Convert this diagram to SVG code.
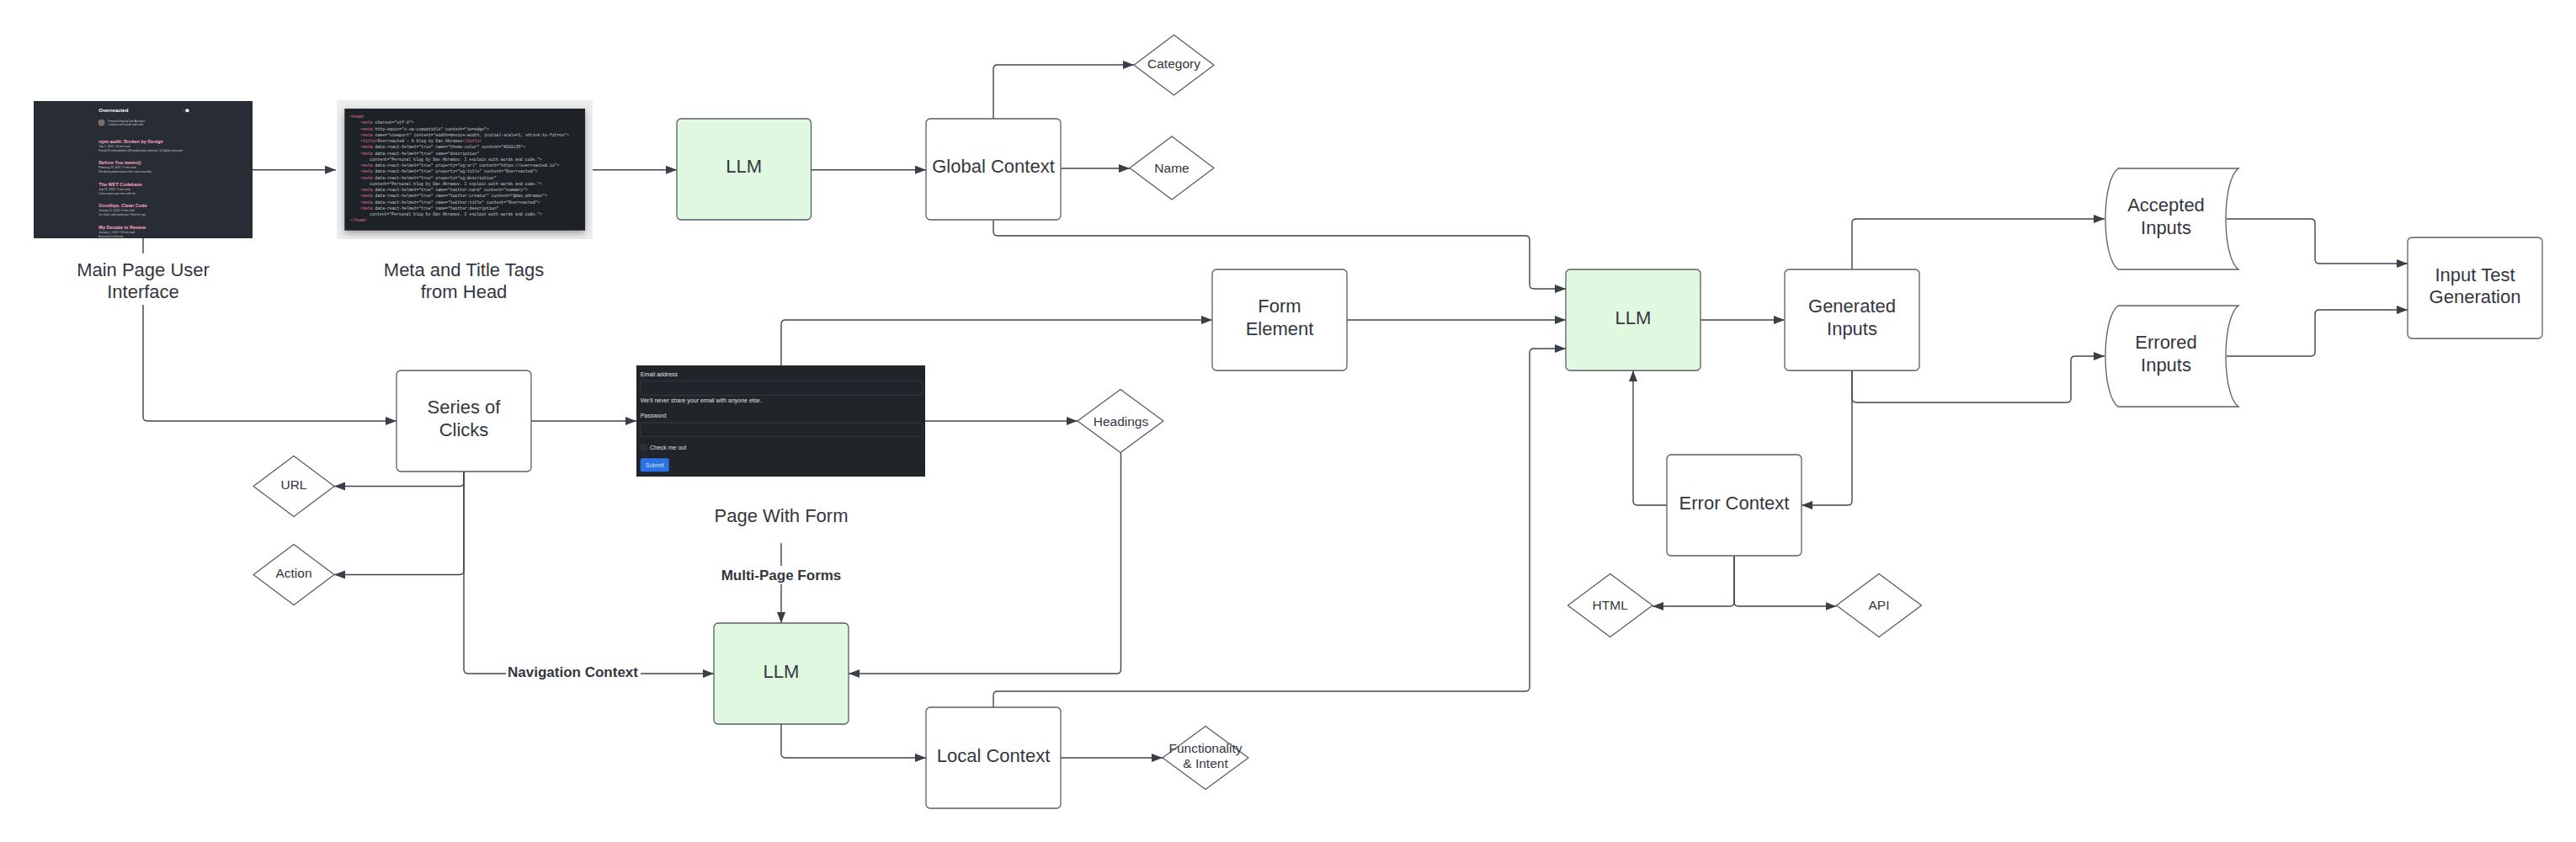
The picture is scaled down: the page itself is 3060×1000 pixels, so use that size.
<svg xmlns="http://www.w3.org/2000/svg" width="3060" height="1000" viewBox="0 0 3060 1000">
<style>
.bg{fill:#ffffff}
.box{fill:#ffffff;stroke:#5a5d63;stroke-width:1.3}
.llm{fill:#e1f8e0;stroke:#5a5d63;stroke-width:1.3}
.dia{fill:#ffffff;stroke:#5a5d63;stroke-width:1.3;stroke-linejoin:round}
.t{font-family:"Liberation Sans",Arial,sans-serif;font-size:22px;fill:#333740;text-anchor:middle}
.ts{font-family:"Liberation Sans",Arial,sans-serif;font-size:15.5px;fill:#333740;text-anchor:middle}
.tb{font-family:"Liberation Sans",Arial,sans-serif;font-size:17px;font-weight:bold;fill:#333740;text-anchor:middle}
.c{fill:none;stroke:#40444e;stroke-width:1.4}
.code{font-family:"Liberation Mono","DejaVu Sans Mono",monospace;font-size:4.8px;fill:#c9cbce}
.tag{fill:#e3709c}
.ui{font-family:"Liberation Sans",Arial,sans-serif}
.pt{font-size:5.5px;font-weight:bold;fill:#ffa7c4}
.ps{font-size:3.2px;fill:#c8c8c8}
.fl{font-family:"Liberation Sans",Arial,sans-serif;font-size:7px;fill:#dee2e6}
</style>
<defs>
<marker id="ah" viewBox="0 0 13 10" refX="13" refY="5" markerWidth="13" markerHeight="10" markerUnits="userSpaceOnUse" orient="auto">
<path d="M0,0 L13,5 L0,10 z" fill="#3a3e48"/>
</marker>
<filter id="sh" x="-10%" y="-10%" width="120%" height="130%">
<feDropShadow dx="0" dy="3" stdDeviation="4" flood-color="#000" flood-opacity="0.35"/>
</filter>
<clipPath id="uiclip"><rect x="40" y="120" width="260" height="163"/></clipPath>
</defs>
<rect class="bg" x="0" y="0" width="3060" height="1000"/>

<g id="connectors">
<path class="c" d="M300,201.7 H399" marker-end="url(#ah)"/>
<path class="c" d="M703.5,201.7 H804" marker-end="url(#ah)"/>
<path class="c" d="M963,201.7 H1100" marker-end="url(#ah)"/>
<path class="c" d="M1180,141 V82 Q1180,77 1185,77 H1347" marker-end="url(#ah)"/>
<path class="c" d="M1260,200 H1342" marker-end="url(#ah)"/>
<path class="c" d="M1180,261 V275 Q1180,280 1185,280 H1812 Q1817,280 1817,285 V338 Q1817,343 1822,343 H1860" marker-end="url(#ah)"/>
<path class="c" d="M170,283 V495 Q170,500 175,500 H471" marker-end="url(#ah)"/>
<path class="c" d="M631,500 H756" marker-end="url(#ah)"/>
<path class="c" d="M928,434 V385 Q928,380 933,380 H1440" marker-end="url(#ah)"/>
<path class="c" d="M1600,380 H1860" marker-end="url(#ah)"/>
<path class="c" d="M1099,500 H1280" marker-end="url(#ah)"/>
<path class="c" d="M1331.5,537.5 V795 Q1331.5,800 1326.5,800 H1008" marker-end="url(#ah)"/>
<path class="c" d="M551,560 V572.5 Q551,577.5 546,577.5 H397" marker-end="url(#ah)"/>
<path class="c" d="M551,560 V677.5 Q551,682.5 546,682.5 H397" marker-end="url(#ah)"/>
<path class="c" d="M551,560 V795 Q551,800 556,800 H848" marker-end="url(#ah)"/>
<path class="c" d="M928,645 V740" marker-end="url(#ah)"/>
<path class="c" d="M928,860 V895 Q928,900 933,900 H1100" marker-end="url(#ah)"/>
<path class="c" d="M1260,900 H1381" marker-end="url(#ah)"/>
<path class="c" d="M1180,840 V826 Q1180,821 1185,821 H1812 Q1817,821 1817,816 V419 Q1817,414 1822,414 H1860" marker-end="url(#ah)"/>
<path class="c" d="M2020,380 H2120" marker-end="url(#ah)"/>
<path class="c" d="M2200,320 V265 Q2200,260 2205,260 H2500" marker-end="url(#ah)"/>
<path class="c" d="M2200,440 V473 Q2200,478 2205,478 H2455 Q2460,478 2460,473 V428 Q2460,423 2465,423 H2500" marker-end="url(#ah)"/>
<path class="c" d="M2200,440 V595 Q2200,600 2195,600 H2140" marker-end="url(#ah)"/>
<path class="c" d="M2645,260 H2745 Q2750,260 2750,265 V308 Q2750,313 2755,313 H2860" marker-end="url(#ah)"/>
<path class="c" d="M2645,423 H2745 Q2750,423 2750,418 V373 Q2750,368 2755,368 H2860" marker-end="url(#ah)"/>
<path class="c" d="M1980,600 H1945 Q1940,600 1940,595 V440" marker-end="url(#ah)"/>
<path class="c" d="M2060,660 V715 Q2060,720 2055,720 H1963" marker-end="url(#ah)"/>
<path class="c" d="M2060,660 V715 Q2060,720 2065,720 H2181.5" marker-end="url(#ah)"/>
<rect x="856" y="672" width="144" height="22" fill="#ffffff"/>
<text class="tb" x="928" y="688.7">Multi-Page Forms</text>
<rect x="601" y="789" width="160" height="20" fill="#ffffff"/>
<text class="tb" x="680.5" y="804">Navigation Context</text>
</g>

<g id="main-page-ui">
<rect x="40" y="120" width="260" height="163" fill="#282c35"/>
<g clip-path="url(#uiclip)" class="ui">
<text x="117.3" y="133.3" font-size="6px" font-weight="bold" fill="#ffffff">Overreacted</text>
<rect x="216" y="129" width="9" height="4.5" rx="2.2" fill="#3b3f48"/>
<circle cx="222.5" cy="131.2" r="2" fill="#ffffff"/>
<circle cx="120.5" cy="145.7" r="4" fill="#7a6f66"/>
<text x="128.3" y="144.5" class="ps">Personal blog by Dan Abramov.</text>
<text x="128.3" y="149.2" class="ps">I explain with words and code.</text>
<text x="117.3" y="170" class="pt">npm audit: Broken by Design</text>
<text x="117.3" y="175.2" class="ps">July 7, 2021 • 10 min read</text>
<text x="117.3" y="180.2" class="ps">Found 99 vulnerabilities (84 moderately irrelevant, 15 highly irrelevant)</text>
<text x="117.3" y="195.3" class="pt">Before You memo()</text>
<text x="117.3" y="200.2" class="ps">February 23, 2021 • 5 min read</text>
<text x="117.3" y="205.2" class="ps">Rendering optimizations that come naturally.</text>
<text x="117.3" y="220.7" class="pt">The WET Codebase</text>
<text x="117.3" y="225.9" class="ps">July 13, 2020 • 1 min read</text>
<text x="117.3" y="230.9" class="ps">Come waste your time with me.</text>
<text x="117.3" y="246" class="pt">Goodbye, Clean Code</text>
<text x="117.3" y="251.2" class="ps">January 11, 2020 • 5 min read</text>
<text x="117.3" y="255.9" class="ps">Let clean code guide you. Then let it go.</text>
<text x="117.3" y="271.7" class="pt">My Decade in Review</text>
<text x="117.3" y="276.9" class="ps">January 1, 2020 • 18 min read</text>
<text x="117.3" y="281.5" class="ps">A personal reflection.</text>
</g>
<rect x="80" y="301" width="180" height="61" fill="#ffffff"/>
<text class="t" x="170" y="328">Main Page User</text>
<text class="t" x="170" y="354">Interface</text>
</g>

<g id="meta-tags">
<rect x="400" y="119" width="304" height="165" fill="#ededed"/>
<rect x="409.3" y="129" width="285.7" height="144.7" fill="#1f2128" filter="url(#sh)"/>
<text class="code" x="415.7" y="140.2"><tspan class="tag">&lt;head&gt;</tspan></text>
<text class="code" x="428.3" y="147.45"><tspan class="tag">&lt;meta</tspan> charset="utf-8"&gt;</text>
<text class="code" x="428.3" y="154.7"><tspan class="tag">&lt;meta</tspan> http-equiv="x-ua-compatible" content="ie=edge"&gt;</text>
<text class="code" x="428.3" y="161.95"><tspan class="tag">&lt;meta</tspan> name="viewport" content="width=device-width, initial-scale=1, shrink-to-fit=no"&gt;</text>
<text class="code" x="428.3" y="169.2"><tspan class="tag">&lt;title&gt;</tspan>Overreacted — A blog by Dan Abramov<tspan class="tag">&lt;/title&gt;</tspan></text>
<text class="code" x="428.3" y="176.45"><tspan class="tag">&lt;meta</tspan> data-react-helmet="true" name="theme-color" content="#282c35"&gt;</text>
<text class="code" x="428.3" y="183.7"><tspan class="tag">&lt;meta</tspan> data-react-helmet="true" name="description"</text>
<text class="code" x="439.3" y="190.95">content="Personal blog by Dan Abramov. I explain with words and code."&gt;</text>
<text class="code" x="428.3" y="198.2"><tspan class="tag">&lt;meta</tspan> data-react-helmet="true" property="og:url" content="https://overreacted.io"&gt;</text>
<text class="code" x="428.3" y="205.45"><tspan class="tag">&lt;meta</tspan> data-react-helmet="true" property="og:title" content="Overreacted"&gt;</text>
<text class="code" x="428.3" y="212.7"><tspan class="tag">&lt;meta</tspan> data-react-helmet="true" property="og:description"</text>
<text class="code" x="439.3" y="219.95">content="Personal blog by Dan Abramov. I explain with words and code."&gt;</text>
<text class="code" x="428.3" y="227.2"><tspan class="tag">&lt;meta</tspan> data-react-helmet="true" name="twitter:card" content="summary"&gt;</text>
<text class="code" x="428.3" y="234.45"><tspan class="tag">&lt;meta</tspan> data-react-helmet="true" name="twitter:creator" content="@dan_abramov"&gt;</text>
<text class="code" x="428.3" y="241.7"><tspan class="tag">&lt;meta</tspan> data-react-helmet="true" name="twitter:title" content="Overreacted"&gt;</text>
<text class="code" x="428.3" y="248.95"><tspan class="tag">&lt;meta</tspan> data-react-helmet="true" name="twitter:description"</text>
<text class="code" x="439.3" y="256.2">content="Personal blog by Dan Abramov. I explain with words and code."&gt;</text>
<text class="code" x="415.7" y="263.45"><tspan class="tag">&lt;/head&gt;</tspan></text>
<text class="t" x="551" y="328">Meta and Title Tags</text>
<text class="t" x="551" y="354">from Head</text>
</g>

<g id="llm-1">
<rect class="llm" x="804" y="141" width="159.5" height="120" rx="5"/>
<text class="t" x="883.7" y="205">LLM</text>
</g>

<g id="global-context">
<rect class="box" x="1100" y="141" width="160" height="120" rx="5"/>
<text class="t" x="1180" y="205">Global Context</text>
</g>

<g id="category">
<path class="dia" d="M1394.5,41.5 L1442,77.3 L1394.5,113 L1347,77.3 Z"/>
<text class="ts" x="1394.5" y="80.8">Category</text>
</g>

<g id="name">
<path class="dia" d="M1392,162 L1442,199.5 L1392,237 L1342,199.5 Z"/>
<text class="ts" x="1392" y="204.5">Name</text>
</g>

<g id="series-of-clicks">
<rect class="box" x="471" y="440" width="160" height="120" rx="5"/>
<text class="t" x="551" y="491">Series of</text>
<text class="t" x="551" y="518">Clicks</text>
</g>

<g id="url">
<path class="dia" d="M349,541.5 L397,577.5 L349,613.5 L301,577.5 Z"/>
<text class="ts" x="349" y="581">URL</text>
</g>

<g id="action">
<path class="dia" d="M349,646.5 L397,682.5 L349,718.5 L301,682.5 Z"/>
<text class="ts" x="349" y="686">Action</text>
</g>

<g id="page-with-form">
<rect x="756" y="434" width="343" height="132" fill="#212529"/>
<text class="fl" x="760.7" y="446.8">Email address</text>
<rect x="760.7" y="452.7" width="335" height="16.6" rx="2" fill="#212529" stroke="#3a3f45" stroke-width="0.8"/>
<text class="fl" x="760.7" y="478" font-size="5.4px" fill="#9aa0a6">We'll never share your email with anyone else.</text>
<text class="fl" x="760.7" y="495.8">Password</text>
<rect x="760.7" y="502" width="335" height="16.6" rx="2" fill="#212529" stroke="#3a3f45" stroke-width="0.8"/>
<rect x="761" y="528" width="7" height="6.7" rx="1" fill="#2b3035" stroke="#3a3f45" stroke-width="0.6"/>
<text class="fl" x="772" y="533.8">Check me out</text>
<rect x="760.7" y="544.3" width="34" height="16" rx="2.5" fill="#2a72e5"/>
<text class="fl" x="777.7" y="555" fill="#ffffff" text-anchor="middle">Submit</text>
<text class="t" x="928" y="619.7">Page With Form</text>
</g>

<g id="form-element">
<rect class="box" x="1440" y="320" width="160" height="120" rx="5"/>
<text class="t" x="1520" y="371">Form</text>
<text class="t" x="1520" y="398">Element</text>
</g>

<g id="headings">
<path class="dia" d="M1331,462.5 L1382,500 L1331,537.5 L1280,500 Z"/>
<text class="ts" x="1331.5" y="505.5">Headings</text>
</g>

<g id="llm-3">
<rect class="llm" x="848" y="740" width="160" height="120" rx="5"/>
<text class="t" x="928" y="804.7">LLM</text>
</g>

<g id="local-context">
<rect class="box" x="1100" y="840" width="160" height="120" rx="5"/>
<text class="t" x="1180" y="904.7">Local Context</text>
</g>

<g id="functionality-intent">
<path class="dia" d="M1432,862.5 L1483,900 L1432,937.5 L1381,900 Z"/>
<text class="ts" x="1432" y="893.5">Functionality</text>
<text class="ts" x="1432" y="912">&amp; Intent</text>
</g>

<g id="llm-2">
<rect class="llm" x="1860" y="320" width="160" height="120" rx="5"/>
<text class="t" x="1940" y="384.7">LLM</text>
</g>

<g id="generated-inputs">
<rect class="box" x="2120" y="320" width="160" height="120" rx="5"/>
<text class="t" x="2200" y="371">Generated</text>
<text class="t" x="2200" y="398">Inputs</text>
</g>

<g id="accepted-inputs">
<path class="box" d="M2516,200 H2659 C2639,215 2639,305 2659,320 H2516 C2496,305 2496,215 2516,200 Z"/>
<text class="t" x="2573" y="250.5">Accepted</text>
<text class="t" x="2573" y="277.5">Inputs</text>
</g>

<g id="errored-inputs">
<path class="box" d="M2516,363 H2659 C2639,378 2639,468 2659,483 H2516 C2496,468 2496,378 2516,363 Z"/>
<text class="t" x="2573" y="414">Errored</text>
<text class="t" x="2573" y="441">Inputs</text>
</g>

<g id="input-test-generation">
<rect class="box" x="2860" y="282" width="160" height="120" rx="5"/>
<text class="t" x="2940" y="333.5">Input Test</text>
<text class="t" x="2940" y="360">Generation</text>
</g>

<g id="error-context">
<rect class="box" x="1980" y="540" width="160" height="120" rx="5"/>
<text class="t" x="2060" y="604.7">Error Context</text>
</g>

<g id="html">
<path class="dia" d="M1912.7,681.5 L1963,719 L1912.7,756.5 L1862.4,719 Z"/>
<text class="ts" x="1912.7" y="724">HTML</text>
</g>

<g id="api">
<path class="dia" d="M2232,681.5 L2282.5,719 L2232,756.5 L2181.5,719 Z"/>
<text class="ts" x="2232" y="724">API</text>
</g>
</svg>
